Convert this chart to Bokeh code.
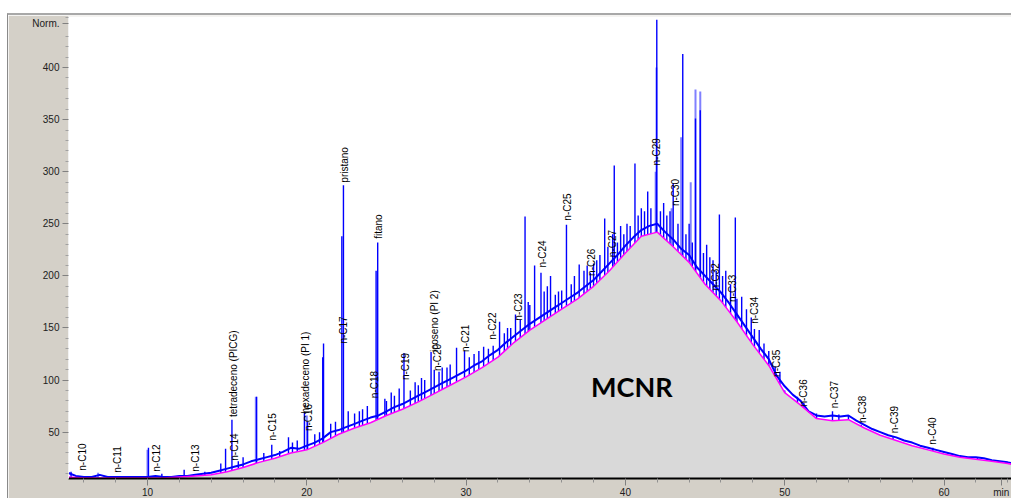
from bokeh.plotting import figure
from bokeh.models import Range1d, Label, FixedTicker, ColumnDataSource
from bokeh.core.properties import value
from bokeh.embed import file_html
from bokeh.resources import INLINE

# ---------------- data ----------------
# unresolved hump (MCNR) : top of grey area / magenta trace
hump_t = [5, 6, 7, 8, 9, 10, 11, 12, 13, 14, 15, 16, 17, 18, 19, 20, 21, 22, 23, 24,
          25, 26, 27, 28, 29, 30, 31, 32, 33, 34, 35, 36, 37, 38, 39, 40, 41, 42, 43, 44,
          45, 46, 47, 48, 49, 50, 51, 52, 53, 54, 55, 56, 57, 58, 59, 60, 61, 62, 63, 64, 64.3]
hump_v = [7, 6, 6, 6, 6, 6, 6, 7, 8, 9, 12, 16, 21, 25, 30, 33, 40, 48, 54, 59,
          66, 72, 79, 87, 95, 103, 112, 122, 136, 148, 158, 168, 178, 190, 205, 222, 238, 242, 228, 213,
          192, 176, 156, 134, 114, 88, 76, 63, 61, 62, 54, 47, 42, 37, 33, 29, 26, 24, 22, 20, 19]

# blue baseline trace (resolved signal without the big spikes)
trace_t = [5.0, 5.5, 6.0, 6.5, 7.0, 7.5, 8.0, 8.5, 9.0, 9.5, 10.0, 10.5, 11.0, 11.5, 12.0, 12.5,
           13.0, 13.5, 14.0, 14.5, 15.0, 15.5, 16.0, 16.5, 17.0, 17.5, 18.0, 18.5, 19.0, 19.5,
           20.0, 20.5, 21.0, 21.5, 22.0, 22.5, 23.0, 23.5, 24.0, 24.5, 25.0, 25.5, 26.0, 26.5,
           27.0, 27.5, 28.0, 28.5, 29.0, 29.5, 30.0, 30.5, 31.0, 31.5, 32.0, 32.5, 33.0, 33.5,
           34.0, 34.5, 35.0, 35.5, 36.0, 36.5, 37.0, 37.5, 38.0, 38.5, 39.0, 39.5, 40.0, 40.5,
           41.0, 41.5, 42.0, 42.5, 43.0, 43.5, 44.0, 44.5, 45.0, 45.5, 46.0, 46.5, 47.0, 47.5,
           48.0, 48.5, 49.0, 49.5, 50.0, 50.5, 51.0, 51.5, 52.0, 52.5, 53.0, 53.5, 54.0, 54.5,
           55.0, 55.5, 56.0, 56.5, 57.0, 57.5, 58.0, 58.5, 59.0, 59.5, 60.0, 60.5, 61.0, 61.5,
           62.0, 62.5, 63.0, 63.5, 64.0, 64.3]
trace_v = [11, 8, 7, 7, 9, 7, 7, 7, 7, 7, 7, 8, 7, 7, 8, 8,
           9, 10, 11, 13, 15, 17, 19, 22, 24, 26, 28, 31, 35, 34,
           37, 40, 44, 50, 52, 55, 58, 61, 64, 66, 70, 74, 77, 81,
           85, 89, 93, 97, 101, 105, 109, 114, 118, 124, 129, 136, 142, 148,
           154, 159, 164, 169, 174, 179, 184, 190, 196, 204, 212, 220, 229, 237,
           244, 248, 250, 242, 235, 226, 220, 208, 200, 192, 184, 174, 163, 152,
           141, 130, 120, 104, 94, 86, 80, 70, 66, 65, 66, 65, 66, 61,
           57, 53, 50, 47, 45, 42, 40, 37, 35, 33, 31, 29, 27, 26,
           26, 25, 23, 22, 21, 20]

# resolved peaks (retention time, height)
peak_t = [5.2, 10.06, 10.9, 12.3, 13.6, 14.6, 14.9, 15.3, 15.7, 16.0, 16.85, 17.3, 17.8, 18.3,
          18.85, 19.1, 19.4, 19.85, 20.05, 20.5, 20.8, 21.0, 21.05, 21.5, 21.8, 22.2, 22.3, 22.6,
          23.0, 23.3, 23.5, 23.8, 24.35, 24.45, 24.9, 25.0, 25.3, 25.5, 25.8, 26.1, 26.5, 26.8,
          27.0, 27.2, 27.4, 27.8, 28.0, 28.3, 28.5, 28.8, 29.0, 29.4, 29.9, 30.2, 30.5, 30.8,
          31.1, 31.4, 31.7, 32.1, 32.4, 32.6, 32.8, 33.1, 33.4, 33.7, 33.9, 34.0, 34.3, 34.7,
          34.9, 35.1, 35.3, 35.6, 35.8, 36.0, 36.3, 36.6, 36.8, 37.1, 37.4, 37.6, 37.8, 38.0,
          38.2, 38.4, 38.7, 38.9, 39.2, 39.3, 39.5, 39.7, 39.9, 40.1, 40.3, 40.6, 40.8, 41.0,
          41.2, 41.4, 41.6, 41.95, 41.97, 42.2, 42.4, 42.6, 42.8, 43.0, 43.3, 43.6, 43.8, 44.0,
          44.2, 44.4, 44.7, 44.9, 45.1, 45.3, 45.5, 45.7, 45.9, 46.1, 46.3, 46.6, 46.9, 47.0,
          47.3, 47.6, 47.9, 48.1, 48.4, 48.7, 49.0, 49.4, 49.7, 50.0, 50.5, 50.8, 51.2, 52.0,
          53.0, 53.4, 54.0, 54.8, 56.8, 59.3, 62.1]
peak_v = [12, 35, 10, 14, 12, 20, 34, 62, 22, 26, 84, 30, 38, 32,
          45, 40, 42, 69, 60, 48, 50, 122, 135, 58, 60, 238, 287, 70,
          68, 70, 72, 75, 205, 232, 82, 80, 88, 85, 92, 126, 90, 98,
          95, 102, 100, 127, 110, 108, 112, 112, 115, 131, 128, 122, 125, 128,
          132, 130, 133, 156, 145, 150, 150, 163, 158, 257, 175, 172, 210, 203,
          185, 190, 200, 182, 185, 186, 249, 192, 200, 211, 205, 210, 203, 212,
          215, 220, 255, 228, 240, 306, 232, 248, 240, 250, 248, 308, 258, 265,
          262, 281, 265, 400, 446, 262, 270, 258, 262, 289, 250, 413, 240, 250,
          232, 351, 359, 222, 230, 218, 215, 205, 259, 200, 205, 192, 256, 178,
          180, 168, 160, 149, 148, 135, 128, 113, 108, 90, 82, 84, 78, 68,
          70, 67, 66, 57, 45, 35, 26]

# lighter (second signal) peaks
light_t = [6.9, 10.0, 16.8, 20.0, 41.9, 42.9, 43.5, 44.1, 44.4, 44.7]
light_v = [11, 33, 84, 66, 300, 265, 333, 290, 379, 377]

# peak annotations
label_names = ["n-C10", "n-C11", "n-C12", "n-C13", "n-C14", "tetradeceno (PICG)", "n-C15",
               "hexadeceno (PI 1)", "n-C16", "n-C17", "pristano", "n-C18", "fitano", "n-C19",
               "n-C20", "icoseno (PI 2)", "n-C21", "n-C22", "n-C23", "n-C24", "n-C25", "n-C26",
               "n-C27", "n-C29", "n-C30", "n-C32", "n-C33", "n-C34", "n-C35", "n-C36", "n-C37",
               "n-C38", "n-C39", "n-C40"]
label_t = [5.9, 8.1, 10.55, 13.0, 15.46, 15.38, 17.85,
           19.92, 20.09, 22.28, 22.36, 24.25, 24.52, 26.22,
           28.2, 28.03, 29.97, 31.63, 33.3, 34.82, 36.39, 37.87,
           39.17, 41.95, 43.15, 45.65, 46.74, 48.13, 49.47, 51.16, 53.13,
           54.86, 56.91, 59.26]
label_v = [13, 11, 12, 12, 22.6, 64.5, 42,
           68, 51, 135, 289.5, 82.6, 235.6, 100,
           108.6, 127, 127, 138.7, 157, 208, 253, 200,
           218, 306, 267, 186, 175, 154, 103, 74.6, 73,
           58.8, 49, 38]

# axis ticks and their texts
x_major = [10, 20, 30, 40, 50, 60, 63.6]
x_labels = {63.6: "min"}
x_minor = [6, 8, 12, 14, 16, 18, 22, 24, 26, 28, 32, 34, 36, 38, 42, 44, 46, 48,
           52, 54, 56, 58, 62, 64]
y_major = [50, 100, 150, 200, 250, 300, 350, 400, 442]
y_labels = {442: "Norm."}
y_minor = [10, 20, 30, 40, 60, 70, 80, 90, 110, 120, 130, 140, 160, 170, 180, 190,
           210, 220, 230, 240, 260, 270, 280, 290, 310, 320, 330, 340, 360, 370, 380,
           390, 410, 420, 430, 448]

annot_text = "MCNR"
annot_t, annot_v = 40.4, 94

X_START, X_END = 5.04, 64.3
Y_START, Y_END = 5.5, 449

# ---------------- figure ----------------
p = figure(width=1004, height=485, output_backend="svg", toolbar_location=None,
           x_range=Range1d(X_START, X_END), y_range=Range1d(Y_START, Y_END),
           min_border_left=60, min_border_right=0, min_border_top=1, min_border_bottom=20)
p.styles = {"margin-left": "7px", "margin-top": "13px",
            "border-top": "2px solid #a8a8a8", "border-left": "1px solid #8a8a8a"}
p.background_fill_color = "white"
p.border_fill_color = "#d4d0c8"
p.outline_line_color = None
p.grid.visible = False

# peaks (drawn first, hidden below the hump by the grey fill)
p.segment(x0=light_t, y0=[Y_START] * len(light_t), x1=light_t, y1=light_v,
          line_color="#8080ff", line_width=2)
p.segment(x0=peak_t, y0=[Y_START] * len(peak_t), x1=peak_t, y1=peak_v,
          line_color="#0000ff", line_width=1.4)

# hump
p.varea(x=hump_t, y1=[Y_START] * len(hump_t), y2=hump_v, fill_color="#d9d9d9")
p.line(trace_t, trace_v, line_color="#0000ff", line_width=2)
p.line(hump_t, hump_v, line_color="#ff00ff", line_width=1.5)

# labels
src = ColumnDataSource(dict(x=label_t, y=label_v, t=label_names))
p.text(x="x", y="y", text="t", source=src, angle=1.5708, text_align="left",
       text_baseline="middle", text_font=value("Liberation Sans"),
       text_font_size="10px", text_color="black")

p.add_layout(Label(x=annot_t, y=annot_v, text=annot_text, text_align="center",
                   text_baseline="middle", text_font="Lato", text_font_style="bold",
                   text_font_size="27px", text_color="black"))

# axes
xa = p.xaxis[0]
xa.ticker = FixedTicker(ticks=x_major, minor_ticks=x_minor)
xa.major_label_overrides = x_labels
xa.axis_line_color = "black"
xa.axis_line_width = 2
xa.major_tick_line_color = "#808080"
xa.minor_tick_line_color = "#909090"
xa.major_tick_out = 7
xa.major_tick_in = 0
xa.minor_tick_out = 4
xa.minor_tick_in = 0
xa.major_label_standoff = 1
xa.major_label_text_font = "Liberation Sans"
xa.major_label_text_font_size = "10px"
xa.major_label_text_color = "#202020"

ya = p.yaxis[0]
ya.ticker = FixedTicker(ticks=y_major, minor_ticks=y_minor)
ya.major_label_overrides = y_labels
ya.axis_line_color = "#f2f2f2"
ya.major_tick_line_color = "#808080"
ya.minor_tick_line_color = "#a0a0a0"
ya.major_tick_out = 6
ya.major_tick_in = 0
ya.minor_tick_out = 3
ya.minor_tick_in = 0
ya.major_label_standoff = 3
ya.major_label_text_font = "Liberation Sans"
ya.major_label_text_font_size = "10px"
ya.major_label_text_color = "#202020"

open("out.html", "w").write(file_html(p, INLINE))
